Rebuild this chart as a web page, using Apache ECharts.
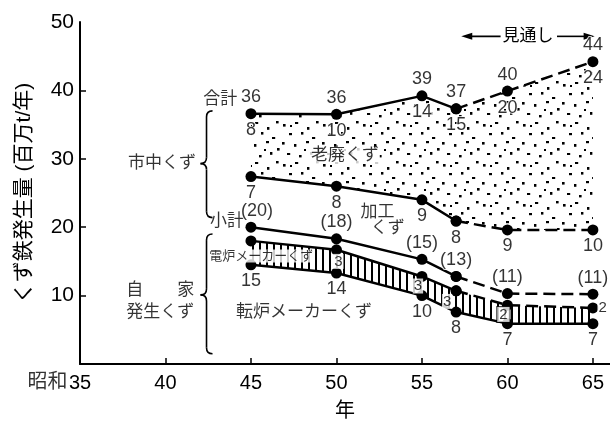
<!DOCTYPE html>
<html><head><meta charset="utf-8">
<script src="https://cdn.jsdelivr.net/npm/echarts@6/dist/echarts.min.js"></script>
<style>html,body{margin:0;padding:0;background:#fff}#c{width:610px;height:426px}</style>
</head><body><div id="c"></div>
<script>
// ---- data ----
const years = [45, 50, 55, 57, 60, 65];
const totalLine    = [36.6, 36.5, 39.2, 37.3, 39.9, 44.2]; // 合計
const cityLowLine  = [27.4, 26.0, 24.0, 20.9, 19.6, 19.6]; // 市中くず下端(加工くず+小計)
const subtotalLine = [20.0, 18.3, 15.3, 12.8, 10.3, 10.2]; // 小計
const denroTopLine = [18.0, 16.7, 12.8, 10.7, 8.6, 8.2];   // 電炉メーカーくず上端
const tenroLine    = [14.5, 13.3, 10.0, 7.6, 5.9, 5.9];    // 転炉メーカーくず

const totalLabels    = ['36','36','39','37','40','44'];
const oldScrapLabels = ['8','10','14','15','20','24'];
const processLabels  = ['7','8','9','8','9','10'];
const subtotalLabels = ['(20)','(18)','(15)','(13)','(11)','(11)'];
const denroLabels    = ['','3','3','3','2','2'];
const tenroLabels    = ['15','14','10','8','7','7'];

const xTickLabels = [35, 40, 45, 50, 55, 60, 65];
const yTickLabels = [10, 20, 30, 40, 50];
const forecastIdx = 3; // 57年から見通し

// ---- helpers ----
const FONT = "'Liberation Sans', 'Noto Sans CJK JP', sans-serif";
function pts(arr, a, b){ const out=[]; for(let i=a;i<=b;i++) out.push([years[i], arr[i]]); return out; }
function makeDots(){
  const c=document.createElement('canvas'); c.width=40; c.height=40;
  const g=c.getContext('2d'); g.fillStyle='#000';
  const d=[[3,4,2.6,2.6],[15,2,3.2,2],[27,7,2.4,2.8],[36,1,2.6,2.4],[9,13,3,2.2],[21,12,2.4,2.6],
           [32,17,3.2,2],[2,22,2.6,2.6],[14,24,2.4,2.8],[26,21,3,2.2],[37,28,2.6,2.6],[7,33,3.2,2],
           [19,35,2.6,2.4],[30,32,2.4,2.8],[10,5,2,2],[24,29,2,2]];
  d.forEach(p=>g.fillRect(p[0],p[1],p[2],p[3]));
  return c;
}
function makeHatch(){
  const c=document.createElement('canvas'); c.width=7; c.height=8;
  const g=c.getContext('2d'); g.fillStyle='#000'; g.fillRect(0,0,2,8);
  return c;
}
const dotPattern = {image: makeDots(), repeat: 'repeat'};
const hatchPattern = {image: makeHatch(), repeat: 'repeat'};

function bandSeries(upper, lower, pattern){
  return {type:'custom', silent:true, z:1, data:[[years[0], upper[0]]],
    renderItem:(params, api)=>{
      const poly=[];
      years.forEach((x,i)=>poly.push(api.coord([x, upper[i]])));
      for(let i=years.length-1;i>=0;i--) poly.push(api.coord([years[i], lower[i]]));
      return {type:'polygon', shape:{points:poly}, style:{fill:pattern, stroke:null}};
    }};
}
function lineSeries(arr, a, b, dashed){
  return {type:'line', data: pts(arr,a,b), z:3, silent:true,
    symbol:'circle', symbolSize:11, itemStyle:{color:'#000'},
    lineStyle:{color:'#000', width:2.5, type: dashed ? [12,6] : 'solid'}};
}
function labelSeries(arr, labels, pos, extra){
  const data=[];
  labels.forEach((t,i)=>{ if(t!=='') data.push({value:[years[i], arr[i]], label:Object.assign({formatter:t}, extra?extra(i):{})}); });
  return {type:'scatter', data, symbolSize:1, itemStyle:{color:'rgba(0,0,0,0)'}, z:6, silent:true,
    label:{show:true, position:pos, distance:7, fontSize:18, color:'#000', fontFamily:FONT,
           textBorderColor:'#fff', textBorderWidth:2}};
}
const notes = [
  {text:'合計', x:43.2, y:38.7},
  {text:'小計', x:43.6, y:20.9},
  {text:'市中くず', x:39.8, y:29.3},
  {text:'老廃くず', x:50.5, y:30.5, bg:true},
  {text:'加工', x:52.4, y:22.2, bg:true},
  {text:'くず', x:53.0, y:19.8, bg:true},
  {text:'自　　家', x:39.7, y:10.8},
  {text:'発生くず', x:39.7, y:7.6},
  {text:'電炉メーカーくず', x:45.6, y:15.8, size:13, bg:true},
  {text:'転炉メーカーくず', x:48.1, y:7.6}
];
const braces = [[42.4, 37.0, 21.4, 29.3], [42.4, 19.0, 1.5, 10.1]];

const chart = echarts.init(document.getElementById('c'), null, {renderer:'canvas'});
const series = [
  bandSeries(totalLine, cityLowLine, dotPattern),
  bandSeries(denroTopLine, tenroLine, hatchPattern),
  lineSeries(totalLine,0,forecastIdx,false), lineSeries(totalLine,forecastIdx,5,true),
  lineSeries(cityLowLine,0,forecastIdx,false), lineSeries(cityLowLine,forecastIdx,5,true),
  lineSeries(subtotalLine,0,forecastIdx,false), lineSeries(subtotalLine,forecastIdx,5,true),
  lineSeries(denroTopLine,0,forecastIdx,false), lineSeries(denroTopLine,forecastIdx,5,true),
  lineSeries(tenroLine,0,5,false),
  labelSeries(totalLine, totalLabels, 'top'),
  labelSeries(totalLine, oldScrapLabels, 'bottom'),
  labelSeries(cityLowLine, processLabels, 'bottom'),
  labelSeries(subtotalLine, subtotalLabels, 'top', i=> i===0 ? {offset:[6,0]} : {}),
  labelSeries(tenroLine, tenroLabels, 'bottom'),
  // 電炉 values inside the band
  {type:'scatter', symbolSize:1, itemStyle:{color:'rgba(0,0,0,0)'}, z:6, silent:true,
   data: denroLabels.map((t,i)=>{
     if(t==='') return null;
     const last = i===years.length-1;
     const y = last ? denroTopLine[i] : (denroTopLine[i]+tenroLine[i])/2;
     const offs = [0,2,-4,-9,-4,0];
     const lab = {formatter:t, position: last ? 'right' : 'inside', offset:[offs[i],0], distance:4,
                  backgroundColor:'#fff', padding:[0,1]};
     if(i===4){ lab.borderColor='#000'; lab.borderWidth=1; lab.padding=[0,2]; }
     return {value:[years[i], y], label:lab};
   }).filter(d=>d),
   label:{show:true, fontSize:15, color:'#000', fontFamily:FONT}},
  // text notes
  {type:'scatter', symbolSize:1, itemStyle:{color:'rgba(0,0,0,0)'}, z:5, silent:true,
   data: notes.map(n=>({value:[n.x,n.y], label:{formatter:n.text, fontSize:n.size||17,
       backgroundColor: n.bg ? '#fff' : 'transparent', padding: n.bg ? [0,1] : 0}})),
   label:{show:true, position:'inside', color:'#000', fontFamily:FONT}},
  // 昭和 prefix for x axis
  {type:'scatter', symbolSize:1, itemStyle:{color:'rgba(0,0,0,0)'}, silent:true, clip:false,
   data:[{value:[35,0], label:{show:true, formatter:'昭和', position:'left', distance:0, offset:[-12,18],
     fontSize:20, color:'#000', fontFamily:FONT}}]},
  // braces
  {type:'custom', silent:true, z:4, data: braces,
   renderItem:(params, api)=>{
     const x=api.value(0);
     const p1=api.coord([x, api.value(1)]), p2=api.coord([x, api.value(2)]), pm=api.coord([x, api.value(3)]);
     const px=p1[0], top=p1[1], bot=p2[1], mid=pm[1], w=6, r=6;
     const st={stroke:'#000', lineWidth:1.6, fill:null};
     return {type:'group', children:[
       {type:'bezierCurve', shape:{x1:px+w,y1:top,x2:px,y2:top+r,cpx1:px,cpy1:top}, style:st},
       {type:'line', shape:{x1:px,y1:top+r,x2:px,y2:mid-r}, style:st},
       {type:'bezierCurve', shape:{x1:px,y1:mid-r,x2:px-w,y2:mid,cpx1:px,cpy1:mid}, style:st},
       {type:'bezierCurve', shape:{x1:px-w,y1:mid,x2:px,y2:mid+r,cpx1:px,cpy1:mid}, style:st},
       {type:'line', shape:{x1:px,y1:mid+r,x2:px,y2:bot-r}, style:st},
       {type:'bezierCurve', shape:{x1:px,y1:bot-r,x2:px+w,y2:bot,cpx1:px,cpy1:bot}, style:st}
     ]};
   }},
  // 見通し arrow
  {type:'custom', silent:true, z:4, data:[[57.3, 47.9, 59.6, 62.9, 65.1, 61.2]],
   renderItem:(params, api)=>{
     const y=api.value(1);
     const a=api.coord([api.value(0),y]), b=api.coord([api.value(2),y]),
           c=api.coord([api.value(3),y]), d=api.coord([api.value(4),y]), t=api.coord([api.value(5),y]);
     const st={stroke:'#000', lineWidth:1.6};
     return {type:'group', children:[
       {type:'line', shape:{x1:a[0]+6,y1:a[1],x2:b[0],y2:b[1]}, style:st},
       {type:'line', shape:{x1:c[0],y1:c[1],x2:d[0]-6,y2:d[1]}, style:st},
       {type:'polygon', shape:{points:[[a[0],a[1]],[a[0]+11,a[1]-3.5],[a[0]+11,a[1]+3.5]]}, style:{fill:'#000'}},
       {type:'polygon', shape:{points:[[d[0],d[1]],[d[0]-11,d[1]-3.5],[d[0]-11,d[1]+3.5]]}, style:{fill:'#000'}},
       {type:'text', x:t[0], y:t[1], style:{text:'見通し', fontSize:17, fontFamily:FONT, fill:'#000',
         align:'center', verticalAlign:'middle'}}
     ]};
   }}
];

chart.setOption({
  animation:false,
  backgroundColor:'#fff',
  grid:{left:80, right:0, top:22, bottom:62},
  xAxis:{type:'value', min:35, max:66, interval:5,
    name:'年', nameLocation:'middle', nameGap:37,
    nameTextStyle:{fontSize:20, color:'#000', fontFamily:FONT},
    axisLine:{lineStyle:{color:'#000', width:2}},
    axisTick:{inside:true, length:6, lineStyle:{color:'#000', width:1.5}, customValues:[40,45,50,55,60,65]},
    axisLabel:{fontSize:20, color:'#000', margin:9, fontFamily:FONT, customValues:xTickLabels,
      formatter:v=> xTickLabels.indexOf(v)>=0 ? String(v) : ''},
    splitLine:{show:false}},
  yAxis:{type:'value', min:0, max:50, interval:10,
    name:'くず鉄発生量 (百万t/年)', nameLocation:'middle', nameGap:45,
    nameTextStyle:{fontSize:21, color:'#000', fontFamily:FONT},
    axisLine:{show:true, lineStyle:{color:'#000', width:2}},
    axisTick:{show:true, inside:true, length:6, lineStyle:{color:'#000', width:1.5}, customValues:[10,20,30,40]},
    axisLabel:{fontSize:21, color:'#000', margin:6, fontFamily:FONT, customValues:yTickLabels,
      formatter:v=> yTickLabels.indexOf(v)>=0 ? String(v) : ''},
    splitLine:{show:false}},
  series
});
</script></body></html>
